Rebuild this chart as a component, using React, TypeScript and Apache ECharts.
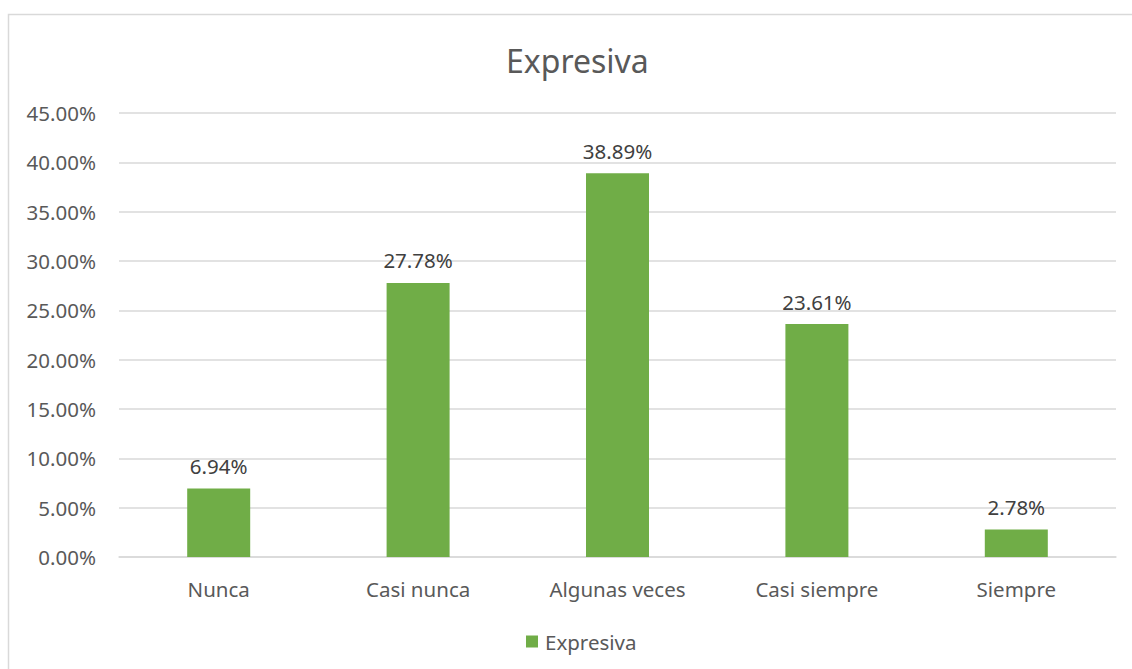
import React, { useEffect, useRef } from "react";
import * as echarts from "echarts";

const categories = ["Nunca", "Casi nunca", "Algunas veces", "Casi siempre", "Siempre"];
const values = [6.94, 27.78, 38.89, 23.61, 2.78];
const seriesName = "Expresiva";
const titleText = "Expresiva";

export default function App() {
  const ref = useRef<HTMLDivElement>(null);
  useEffect(() => {
    if (!ref.current) return;
    const chart = echarts.init(ref.current, null, { renderer: "svg" });
    const font = "'Noto Sans', sans-serif";
    chart.setOption({
      animation: false,
      backgroundColor: "#ffffff",
      title: {
        text: titleText,
        left: 506,
        top: 44,
        padding: 0,
        textStyle: { fontFamily: font, fontSize: 32, fontWeight: "normal", color: "#595959" },
      },
      graphic: [
        {
          type: "rect",
          shape: { x: 8.5, y: 14.5, width: 1140, height: 700 },
          style: { fill: "none", stroke: "#d9d9d9", lineWidth: 1.5 },
          silent: true,
        },
      ],
      legend: {
        data: [seriesName],
        left: 521,
        top: 626,
        itemWidth: 12,
        itemHeight: 12,
        icon: "rect",
        textStyle: { fontFamily: font, fontSize: 20.5, color: "#595959", padding: [0, 0, 0, 2] },
      },
      grid: { left: 119, right: 16, top: 113, bottom: 112, containLabel: false },
      xAxis: {
        type: "category",
        data: categories,
        axisLine: { show: true, lineStyle: { color: "#d9d9d9", width: 1.5 } },
        axisTick: { show: false },
        axisLabel: { fontFamily: font, fontSize: 20.5, color: "#595959", margin: 21 },
      },
      yAxis: {
        type: "value",
        min: 0,
        max: 45,
        interval: 5,
        axisLine: { show: false },
        axisTick: { show: false },
        splitLine: { lineStyle: { color: "#d9d9d9", width: 1.5 } },
        axisLabel: {
          fontFamily: font,
          fontSize: 20.5,
          color: "#595959",
          margin: 23,
          formatter: (v: number) => v.toFixed(2) + "%",
        },
      },
      series: [
        {
          name: seriesName,
          type: "bar",
          data: values,
          barWidth: 63,
          itemStyle: { color: "#70ad47" },
          label: {
            show: true,
            position: "top",
            distance: 12,
            fontFamily: font,
            fontSize: 20.5,
            color: "#404040",
            formatter: (p: any) => Number(p.value).toFixed(2) + "%",
          },
        },
      ],
    });
    return () => chart.dispose();
  }, []);
  return (
    <div
      ref={ref}
      style={{ position: "fixed", left: 0, top: 0, width: 1132, height: 669 }}
    />
  );
}
